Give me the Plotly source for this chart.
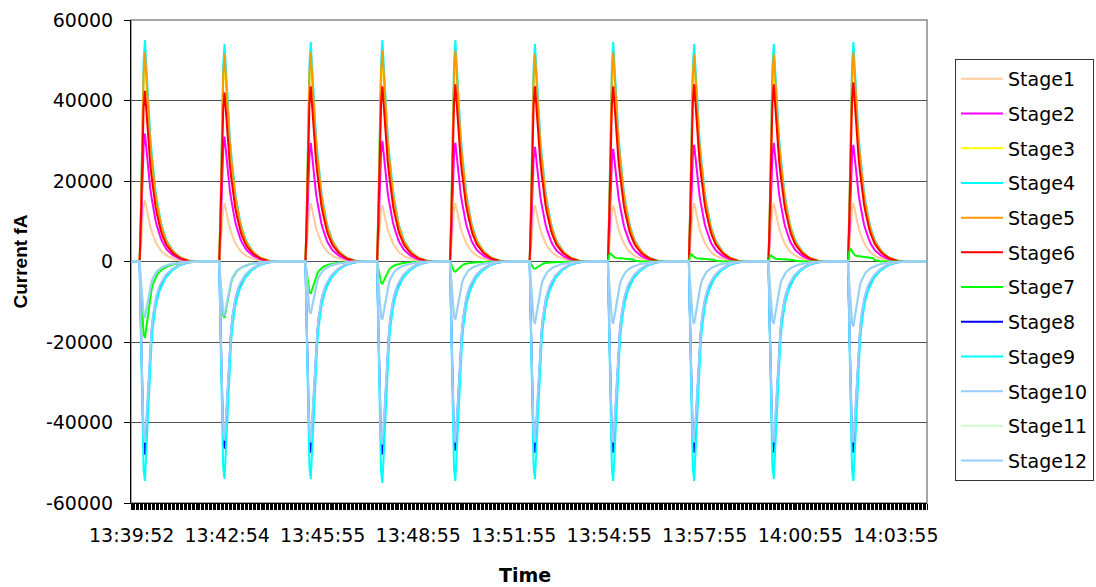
import plotly.graph_objects as go

# ---------------- data ----------------
n_samples = 600
tick_labels = ["13:39:52", "13:42:54", "13:45:55", "13:48:55", "13:51:55",
               "13:54:55", "13:57:55", "14:00:55", "14:03:55"]
tick_positions = [0, 72, 144, 216, 288, 360, 432, 504, 576]

# sample index at which each of the ten pulses starts
pulse_starts = [6, 66, 131, 185, 240, 300, 359, 420, 480, 540]

# pulse shapes (relative to the pulse extreme)
rise_decay_profile = [0, 0.25, 0.6, 0.9, 1.0, 0.88, 0.76, 0.66, 0.57, 0.5, 0.43,
                      0.37, 0.32, 0.28, 0.24, 0.21, 0.18, 0.155, 0.135, 0.115,
                      0.1, 0.088, 0.077, 0.067, 0.058, 0.05, 0.043, 0.037, 0.031,
                      0.026, 0.022, 0.018, 0.015, 0.012, 0.01, 0.008, 0.006,
                      0.004, 0.003, 0.002, 0.001, 0]
dip_profile = [0, 0.35, 0.7, 0.95, 1.0, 0.88, 0.74, 0.58, 0.46, 0.37, 0.3, 0.25,
               0.21, 0.18, 0.155, 0.135, 0.12, 0.105, 0.093, 0.082, 0.072,
               0.064, 0.056, 0.05, 0.044, 0.039, 0.034, 0.03, 0.026, 0.022,
               0.019, 0.016, 0.013, 0.011, 0.009, 0.007, 0.005, 0.004, 0.003,
               0.002, 0.001, 0]
stage7_bump_profile = [0, 0.8, 1.0, 0.8, 0.6, 0.5, 0.45, 0.42, 0.4, 0.4, 0.38,
                       0.37, 0.36, 0.35, 0.34, 0.33, 0.32, 0.3, 0.28, 0.25,
                       0.12, 0.08, 0.06, 0.04, 0.02, 0]

stage_names = ["Stage1", "Stage2", "Stage3", "Stage4", "Stage5", "Stage6",
               "Stage7", "Stage8", "Stage9", "Stage10", "Stage11", "Stage12"]
stage_colors = ["#FFCC99", "#FF00FF", "#FFFF00", "#00FFFF", "#FF9900", "#FF0000",
                "#00FF00", "#0000FF", "#00FFFF", "#99CCFF", "#CCFFCC", "#99CCFF"]

# extreme value (fA) of every stage in each of the ten pulses
stage1_peaks = [15200, 14500, 14500, 14000, 14500, 14000, 14000, 14500, 14500, 14500]
stage2_peaks = [31800, 31000, 29500, 30000, 29500, 28500, 28000, 29000, 29500, 29000]
stage3_peaks = [50000, 49500, 50000, 50500, 50500, 50000, 50000, 50000, 50000, 50500]
stage4_peaks = [55000, 54000, 54500, 55000, 55000, 54000, 54500, 54000, 54000, 54500]
stage5_peaks = [52000, 51500, 52000, 52500, 52500, 51500, 52000, 51500, 51500, 52000]
stage6_peaks = [42400, 42000, 43500, 43500, 44000, 43500, 43500, 44000, 44000, 44500]
stage7_peaks = [-19000, -14000, -8000, -5500, -2500, -1800, 2000, 1800, 1500, 3200]
stage8_peaks = [-48000, -46500, -47500, -48000, -47000, -47500, -47500, -47500, -47500, -47500]
stage9_peaks = [-54500, -54000, -54000, -55000, -54500, -54000, -54500, -54500, -54000, -54500]
stage10_peaks = [-45000, -44500, -45000, -45500, -45000, -45000, -45000, -45000, -45000, -45000]
stage11_peaks = [-13000, -12500, -12500, -13500, -14000, -14500, -14500, -14500, -14500, -15000]
stage12_peaks = [-14000, -13500, -13000, -14500, -14500, -15500, -15500, -15500, -15500, -16200]

y_ticks = [60000, 40000, 20000, 0, -20000, -40000, -60000]
# ------------------------------------------------------------------------

all_peaks = [stage1_peaks, stage2_peaks, stage3_peaks, stage4_peaks, stage5_peaks,
             stage6_peaks, stage7_peaks, stage8_peaks, stage9_peaks, stage10_peaks,
             stage11_peaks, stage12_peaks]


def build_series(peaks, stage):
    y = [0.0] * n_samples
    for start, peak in zip(pulse_starts, peaks):
        if stage == "Stage7" and peak > 0:
            prof = stage7_bump_profile
        elif peak > 0:
            prof = rise_decay_profile
        else:
            prof = dip_profile
        for j, p in enumerate(prof):
            if start + j < n_samples:
                y[start + j] = peak * p
    return y


x = list(range(n_samples))
fig = go.Figure()
for name, color, peaks in zip(stage_names, stage_colors, all_peaks):
    fig.add_trace(go.Scatter(
        x=x, y=build_series(peaks, name), mode="lines", name=name,
        legendgroup=name,
        line=dict(color=color, width=2)))

fig.update_layout(
    width=1096, height=587,
    margin=dict(l=131, r=169, t=20, b=84, autoexpand=False),
    paper_bgcolor="white", plot_bgcolor="white",
    font=dict(family="DejaVu Sans", size=19, color="black"),
    showlegend=True,
    legend=dict(x=(955 - 131) / 796, y=(503 - 59) / 483, xanchor="left", yanchor="top",
                bgcolor="white", bordercolor="#333333", borderwidth=1,
                font=dict(family="DejaVu Sans", size=19, color="black"),
                tracegroupgap=7, traceorder="grouped", itemwidth=42),
    xaxis=dict(range=[-0.5, n_samples - 0.5], tickmode="array",
               tickvals=tick_positions, ticktext=tick_labels,
               ticks="outside", ticklen=6, tickcolor="black", tickwidth=1,
               ticklabelstandoff=9,
               showgrid=False, zeroline=False, showline=True, linecolor="black",
               linewidth=1, automargin=False,
               minor=dict(tick0=-0.5, dtick=1, ticks="outside", ticklen=6,
                          tickcolor="black", tickwidth=1, showgrid=False)),
    yaxis=dict(range=[-60000, 60000], tickmode="array", tickvals=y_ticks,
               ticktext=[str(v) for v in y_ticks], automargin=False,
               ticks="outside", ticklen=6, tickcolor="black",
               ticklabelstandoff=7,
               showgrid=True, gridcolor="#505050", gridwidth=1,
               zeroline=True, zerolinecolor="#505050", zerolinewidth=1,
               showline=True, linecolor="black", linewidth=1),
    shapes=[dict(type="rect", xref="paper", yref="paper", x0=0, x1=1, y0=0, y1=1,
                 line=dict(color="#888888", width=1.5), layer="below")],
    annotations=[
        dict(text="<b>Current fA</b>", xref="paper", yref="paper",
             x=(20 - 131) / 796, y=0.5, xanchor="center", yanchor="middle",
             textangle=-90, showarrow=False,
             font=dict(family="Liberation Sans", size=19, color="black")),
        dict(text="<b>Time</b>", xref="paper", yref="paper",
             x=(525 - 131) / 796, y=-(575 - 503) / 483, xanchor="center",
             yanchor="middle", showarrow=False,
             font=dict(family="DejaVu Sans", size=19, color="black")),
    ],
)

fig.write_html("out.html",
               config={"displayModeBar": False},
               post_script="document.body.style.margin='0px';"
                           "document.body.style.overflow='hidden';")
